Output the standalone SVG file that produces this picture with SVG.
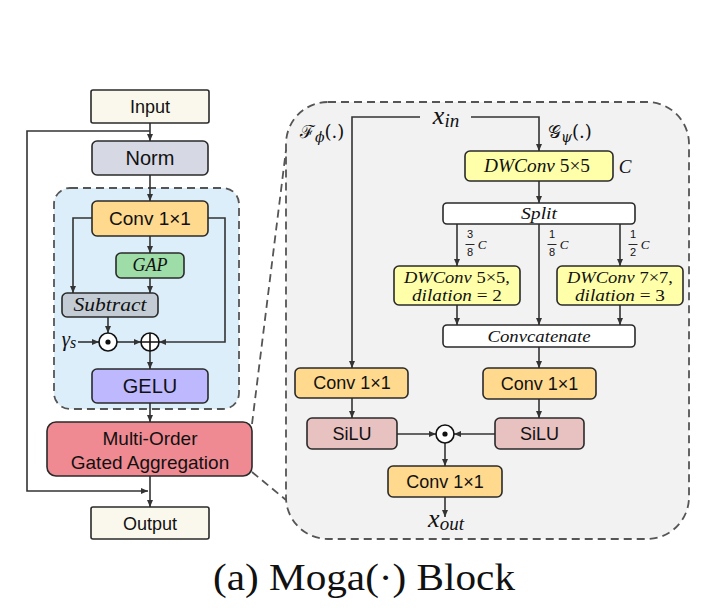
<svg xmlns="http://www.w3.org/2000/svg" width="708" height="610" viewBox="0 0 708 610">
<defs>
<marker id="ah" markerWidth="8" markerHeight="8" refX="7" refY="3" orient="auto" markerUnits="userSpaceOnUse"><path d="M0,0 L7,3 L0,6 z" fill="#333"/></marker>
<style>
.box{stroke:#2a2a2a;stroke-width:1.6}
.ln{fill:none;stroke:#333;stroke-width:1.6}
.dash{stroke:#555;stroke-width:1.8;stroke-dasharray:8 5}
.nofill{fill:none}
.sans{font-family:"Liberation Sans",Arial,sans-serif;fill:#111;text-anchor:middle}
.mi{font-family:"Liberation Serif","DejaVu Serif",serif;font-style:italic;fill:#111;text-anchor:middle}
.up{font-style:normal}
.frac{font-family:"Liberation Sans",sans-serif;font-size:11px;fill:#111;text-anchor:middle}
</style>
</defs>
<rect width="708" height="610" fill="#ffffff"/>

<!-- panels -->
<rect x="54" y="188" width="185" height="221" rx="16" fill="#DDEEFB" class="dash"/>
<rect x="286" y="102" width="403" height="437" rx="42" fill="#F2F2F2" class="dash"/>
<g id="zoom-lines">
<path class="dash nofill" d="M252,424 L286,150"/>
<path class="dash nofill" d="M252,472 L286,500"/>
</g>

<!-- connectors -->
<g id="connectors">
<path class="ln" d="M150,123 V141" marker-end="url(#ah)"/>
<path class="ln" d="M150,131 H27 V491 H148" marker-end="url(#ah)"/>
<path class="ln" d="M150,175 V201" marker-end="url(#ah)"/>
<path class="ln" d="M150,236 V253" marker-end="url(#ah)"/>
<path class="ln" d="M150,278 V293" marker-end="url(#ah)"/>
<path class="ln" d="M92,218 H73 V293" marker-end="url(#ah)"/>
<path class="ln" d="M208,218 H225 V342 H159" marker-end="url(#ah)"/>
<path class="ln" d="M108,317 V333" marker-end="url(#ah)"/>
<path class="ln" d="M78,342 H99" marker-end="url(#ah)"/>
<path class="ln" d="M117,342 H141" marker-end="url(#ah)"/>
<path class="ln" d="M150,351 V369" marker-end="url(#ah)"/>
<path class="ln" d="M150,403 V422" marker-end="url(#ah)"/>
<path class="ln" d="M150,476 V507" marker-end="url(#ah)"/>

<path class="ln" d="M420,117 H352 V368" marker-end="url(#ah)"/>
<path class="ln" d="M471,117 H539 V151" marker-end="url(#ah)"/>
<path class="ln" d="M539,181 V203" marker-end="url(#ah)"/>
<path class="ln" d="M457,224 V266" marker-end="url(#ah)"/>
<path class="ln" d="M539,224 V325" marker-end="url(#ah)"/>
<path class="ln" d="M620,224 V266" marker-end="url(#ah)"/>
<path class="ln" d="M457,305 V325" marker-end="url(#ah)"/>
<path class="ln" d="M620,305 V325" marker-end="url(#ah)"/>
<path class="ln" d="M539,347 V368" marker-end="url(#ah)"/>
<path class="ln" d="M352,398 V418" marker-end="url(#ah)"/>
<path class="ln" d="M539,399 V418" marker-end="url(#ah)"/>
<path class="ln" d="M397,434 H436" marker-end="url(#ah)"/>
<path class="ln" d="M495,434 H454" marker-end="url(#ah)"/>
<path class="ln" d="M445,443 V466" marker-end="url(#ah)"/>
<path class="ln" d="M445,497 V517" marker-end="url(#ah)"/>
</g>

<!-- left column nodes -->
<g id="input"><rect class="box" x="91" y="90" width="118" height="33" rx="2" fill="#FAF8EC"/><text class="sans" x="150" y="113" font-size="18">Input</text></g>
<g id="norm"><rect class="box" x="92" y="141" width="116" height="34" rx="5" fill="#D6D8E3"/><text class="sans" x="150" y="165" font-size="20">Norm</text></g>
<g id="conv-a"><rect class="box" x="92" y="201" width="116" height="35" rx="5" fill="#FFD98E"/><text class="sans" x="150" y="225" font-size="19">Conv 1×1</text></g>
<g id="gap"><rect class="box" x="116" y="253" width="68" height="25" rx="5" fill="#9EDCA8"/><text class="mi" x="150" y="271" font-size="18" textLength="35" lengthAdjust="spacingAndGlyphs">GAP</text></g>
<g id="subtract"><rect class="box" x="62" y="293" width="96" height="24" rx="5" fill="#C3CCD4"/><text class="mi" x="110" y="311" font-size="18" textLength="73" lengthAdjust="spacingAndGlyphs">Subtract</text></g>
<g id="gamma"><text class="mi" x="69" y="346" font-size="21">γ<tspan font-size="16" dy="2">s</tspan></text></g>
<g id="dot-a"><circle cx="108" cy="342" r="9" fill="#fff" stroke="#111" stroke-width="1.6"/><circle cx="108" cy="342" r="2.6" fill="#111"/></g>
<g id="plus-a"><circle cx="150" cy="342" r="9" fill="#fff" stroke="#111" stroke-width="1.6"/><path d="M141,342 H159 M150,333 V351" stroke="#111" stroke-width="1.6"/></g>
<g id="gelu"><rect class="box" x="92" y="369" width="116" height="34" rx="5" fill="#BEB9FF"/><text class="sans" x="150" y="393" font-size="20">GELU</text></g>
<g id="moga"><rect class="box" x="47" y="422" width="205" height="54" rx="9" fill="#F08A92"/><text class="sans" x="150" y="445" font-size="19">Multi-Order</text><text class="sans" x="150" y="469" font-size="19">Gated Aggregation</text></g>
<g id="output"><rect class="box" x="91" y="507" width="118" height="32" rx="2" fill="#FAF8EC"/><text class="sans" x="150" y="530" font-size="18">Output</text></g>

<!-- right panel nodes -->
<g id="xin"><text class="mi" x="446" y="124" font-size="26">x<tspan font-size="19" dy="3">in</tspan></text></g>
<g id="f-phi"><text font-family="'DejaVu Serif','Liberation Serif',serif" x="300" y="138" font-size="18" fill="#111">ℱ<tspan font-style="italic" font-size="14" dy="4">ϕ</tspan><tspan dy="-4">(.)</tspan></text></g>
<g id="g-psi"><text font-family="'DejaVu Serif','Liberation Serif',serif" x="548" y="138" font-size="18" fill="#111">𝒢<tspan font-style="italic" font-size="14" dy="4">ψ</tspan><tspan dy="-4">(.)</tspan></text></g>
<g id="dwconv"><rect class="box" x="465" y="151" width="148" height="30" rx="5" fill="#FFFFAA"/><text class="mi" x="537" y="172" font-size="18" textLength="106" lengthAdjust="spacingAndGlyphs">DWConv <tspan class="up">5×5</tspan></text></g>
<g id="c-label"><text class="mi" x="625" y="173" font-size="19">C</text></g>
<g id="split"><rect class="box" x="443" y="203" width="192" height="21" rx="4" fill="#FFFFFF"/><text class="mi" x="539" y="219" font-size="16" textLength="36" lengthAdjust="spacingAndGlyphs">Split</text></g>
<g id="frac1"><text class="frac" x="470" y="238">3</text><path d="M465.5,244.5 H474.5" stroke="#111" stroke-width="0.9"/><text class="frac" x="470" y="256">8</text><text class="mi" x="482" y="249" font-size="13">C</text></g>
<g id="frac2"><text class="frac" x="552" y="238">1</text><path d="M547.5,244.5 H556.5" stroke="#111" stroke-width="0.9"/><text class="frac" x="552" y="256">8</text><text class="mi" x="564" y="249" font-size="13">C</text></g>
<g id="frac3"><text class="frac" x="633" y="238">1</text><path d="M628.5,244.5 H637.5" stroke="#111" stroke-width="0.9"/><text class="frac" x="633" y="256">2</text><text class="mi" x="645" y="249" font-size="13">C</text></g>
<g id="dw55d"><rect class="box" x="394" y="266" width="126" height="39" rx="5" fill="#FFFFAA"/><text class="mi" x="457" y="283" font-size="17" textLength="106" lengthAdjust="spacingAndGlyphs">DWConv <tspan class="up">5×5,</tspan></text><text class="mi" x="457" y="301" font-size="17" textLength="90" lengthAdjust="spacingAndGlyphs">dilation <tspan class="up">= 2</tspan></text></g>
<g id="dw77d"><rect class="box" x="557" y="266" width="126" height="39" rx="5" fill="#FFFFAA"/><text class="mi" x="620" y="283" font-size="17" textLength="106" lengthAdjust="spacingAndGlyphs">DWConv <tspan class="up">7×7,</tspan></text><text class="mi" x="620" y="301" font-size="17" textLength="90" lengthAdjust="spacingAndGlyphs">dilation <tspan class="up">= 3</tspan></text></g>
<g id="concat"><rect class="box" x="443" y="325" width="192" height="22" rx="4" fill="#FFFFFF"/><text class="mi" x="539" y="342" font-size="16" textLength="103" lengthAdjust="spacingAndGlyphs">Convcatenate</text></g>
<g id="conv-l"><rect class="box" x="295" y="368" width="113" height="30" rx="5" fill="#FFD98E"/><text class="sans" x="352" y="389" font-size="18">Conv 1×1</text></g>
<g id="conv-r"><rect class="box" x="483" y="368" width="113" height="31" rx="5" fill="#FFD98E"/><text class="sans" x="539.5" y="390" font-size="18">Conv 1×1</text></g>
<g id="silu-l"><rect class="box" x="307" y="418" width="90" height="31" rx="5" fill="#E8C1C1"/><text class="sans" x="352" y="440" font-size="18">SiLU</text></g>
<g id="silu-r"><rect class="box" x="495" y="418" width="89" height="31" rx="5" fill="#E8C1C1"/><text class="sans" x="539.5" y="440" font-size="18">SiLU</text></g>
<g id="dot-b"><circle cx="445" cy="434" r="9" fill="#fff" stroke="#111" stroke-width="1.6"/><circle cx="445" cy="434" r="2.6" fill="#111"/></g>
<g id="conv-out"><rect class="box" x="388" y="466" width="114" height="31" rx="5" fill="#FFD98E"/><text class="sans" x="445" y="488" font-size="18">Conv 1×1</text></g>
<g id="xout"><text class="mi" x="446" y="527" font-size="26">x<tspan font-size="19" dy="3">out</tspan></text></g>

<text id="caption" x="213" y="590" font-family="'Liberation Serif','Times New Roman',serif" font-size="37" fill="#111" textLength="302" lengthAdjust="spacingAndGlyphs">(a) Moga(·) Block</text>
</svg>
